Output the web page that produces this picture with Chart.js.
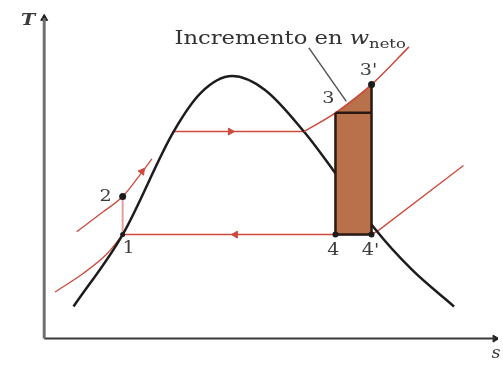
<!DOCTYPE html>
<html>
<head>
<meta charset="utf-8">
<script src="https://cdn.jsdelivr.net/npm/chart.js@4.4.0/dist/chart.umd.min.js"></script>
<style>
body { margin: 0; background: #fff; }
#wrap { width: 503px; height: 365px; }
</style>
</head>
<body>
<div id="wrap"><canvas id="tsChart"></canvas></div>
<script>
// saturation dome (s, T in arbitrary units)
var domeS = [0.65, 1.74, 2.87, 3.48, 4.17, 4.89, 5.76, 6.41, 7.33, 8.15, 9.09];
var domeT = [1.01, 3.28, 6.53, 7.76, 8.28, 7.85, 6.53, 5.31, 3.47, 2.18, 1.01];

// high pressure isobar
var hpLiqS = [0.72, 1.30, 1.74, 2.17, 2.39];
var hpLiqT = [3.37, 3.99, 4.48, 5.25, 5.67];
var hpEvapS = [2.87, 5.76];
var hpEvapT = [6.53, 6.53];
var hpVapS = [5.76, 6.46, 7.26, 8.09];
var hpVapT = [6.53, 7.12, 8.01, 9.20];

// low pressure isobar
var lpLiqS = [0.24, 0.87, 1.41, 1.74];
var lpLiqT = [1.47, 2.06, 2.70, 3.28];
var lpCondS = [1.74, 7.26];
var lpCondT = [3.28, 3.28];
var lpVapS = [7.26, 7.43, 9.30];
var lpVapT = [3.28, 3.43, 5.46];

// pump 1-2
var pumpS = [1.74, 1.74];
var pumpT = [3.28, 4.48];

// state points
var stateNames = ['1', '2', '3', "3'", '4', "4'"];
var stateS = [1.74, 1.74, 6.46, 7.26, 6.46, 7.26];
var stateT = [3.28, 4.48, 7.12, 8.01, 3.28, 3.28];

// flow arrows
var arrowS = [4.13, 4.24, 2.17];
var arrowT = [6.53, 3.28, 5.27];
var arrowRot = [90, -90, 37];

// leader line for the annotation
var leaderS = [5.87, 6.70];
var leaderT = [9.17, 7.48];

var label = 'Incremento en ';
var labelW = 'w';
var labelSub = 'neto';

function pts(s, t) {
    return s.map(function (v, i) { return {x: v, y: t[i]}; });
}

var red = '#cc4a3c';
var dark = '#1c1c1c';

var rectPath = [
    {x: stateS[2], y: stateT[2]},
    {x: stateS[4], y: stateT[4]},
    {x: stateS[5], y: stateT[5]},
    {x: stateS[3], y: stateT[3]},
    {x: stateS[3], y: stateT[2]},
    {x: stateS[2], y: stateT[2]}
];

function line(data, color, width, order) {
    return {
        data: data,
        showLine: true,
        borderColor: color,
        borderWidth: width,
        pointRadius: 0,
        fill: false,
        tension: 0,
        order: order
    };
}

function curve(data, color, width, order) {
    var ds = line(data, color, width, order);
    ds.cubicInterpolationMode = 'monotone';
    return ds;
}

function stretchText(ctx, text, x, y, sx) {
    ctx.save();
    ctx.translate(x, y);
    ctx.scale(sx, 1);
    ctx.fillText(text, 0, 0);
    ctx.restore();
}

var textPlugin = {
    id: 'tsLabels',
    afterDatasetsDraw: function (chart) {
        var ctx = chart.ctx, xs = chart.scales.x, ys = chart.scales.y;
        var labelDx = [6, -17, -7, -3, -2, -1];
        var labelDy = [14, 0, -14, -14, 16, 16];
        ctx.save();
        ctx.fillStyle = '#3c3c3c';
        ctx.textAlign = 'center';
        ctx.textBaseline = 'middle';
        ctx.font = '16px "DejaVu Serif"';
        stateNames.forEach(function (name, i) {
            stretchText(ctx, name,
                xs.getPixelForValue(stateS[i]) + labelDx[i],
                ys.getPixelForValue(stateT[i]) + labelDy[i], 1.2);
        });

        // axis names
        ctx.font = 'italic bold 16px "DejaVu Serif"';
        stretchText(ctx, 'T', xs.getPixelForValue(0) - 16, ys.getPixelForValue(10.1) + 2, 1.2);
        ctx.font = 'italic 16px "DejaVu Serif"';
        stretchText(ctx, 's', xs.getPixelForValue(10) + 1, ys.getPixelForValue(0) + 15, 1.1);

        // annotation
        ctx.fillStyle = '#333333';
        ctx.textAlign = 'left';
        ctx.textBaseline = 'alphabetic';
        ctx.font = '18px "DejaVu Serif"';
        var x0 = xs.getPixelForValue(2.89);
        var y0 = ys.getPixelForValue(9.30);
        var sx = 168 / ctx.measureText('Incremento en').width;
        stretchText(ctx, label, x0, y0, sx);
        var x1 = x0 + ctx.measureText(label).width * sx;
        ctx.font = 'italic 18px "DejaVu Serif"';
        stretchText(ctx, labelW, x1, y0, sx);
        var x2 = x1 + ctx.measureText(labelW).width * sx;
        ctx.font = '13px "DejaVu Serif"';
        stretchText(ctx, labelSub, x2, y0 + 4, sx);
        ctx.restore();
    }
};

var ctx = document.getElementById('tsChart');
var tsChart = new Chart(ctx, {
    type: 'scatter',
    data: {
        datasets: [
            {
                data: pts(stateS, stateT),
                pointRadius: [2.5, 3.5, 0, 3.5, 3, 3],
                pointBackgroundColor: dark,
                pointBorderWidth: 0,
                showLine: false,
                order: 0
            },
            {
                data: pts(arrowS, arrowT),
                pointStyle: 'triangle',
                pointRadius: 4,
                pointRotation: arrowRot,
                pointBackgroundColor: red,
                pointBorderColor: red,
                showLine: false,
                order: 1
            },
            line(rectPath, '#2a1a12', 2.5, 2),
            curve(pts(hpVapS, hpVapT), red, 1.5, 3),
            {
                data: pts([stateS[2], stateS[3]], [stateT[2], stateT[3]]),
                showLine: true,
                borderWidth: 0,
                pointRadius: 0,
                backgroundColor: '#b9714b',
                fill: {value: stateT[0]},
                order: 4
            },
            curve(pts(domeS, domeT), dark, 2.5, 5),
            curve(pts(hpLiqS, hpLiqT), red, 1.3, 6),
            line(pts(hpEvapS, hpEvapT), red, 1.5, 6),
            curve(pts(lpLiqS, lpLiqT), red, 1.3, 6),
            line(pts(lpCondS, lpCondT), red, 1.5, 6),
            line(pts(lpVapS, lpVapT), red, 1.3, 6),
            line(pts(pumpS, pumpT), '#e0a0a0', 2, 6),
            line(pts(leaderS, leaderT), '#555555', 1.5, 6),
            line(pts([0, 0], [0, 10.1]), '#707070', 3, 7),
            line(pts([0, 10], [0, 0]), '#3a3a3a', 2, 7),
            {
                data: pts([0, 10], [10.1, 0]),
                pointStyle: 'triangle',
                pointRadius: 4,
                pointRotation: [0, 90],
                pointBackgroundColor: '#222',
                pointBorderColor: '#222',
                showLine: false,
                order: 7
            }
        ]
    },
    options: {
        responsive: true,
        maintainAspectRatio: false,
        animation: false,
        layout: { padding: 0 },
        scales: {
            x: { type: 'linear', min: -0.8696, max: 10.065, display: false },
            y: { type: 'linear', min: -0.6748, max: 10.521, display: false }
        },
        plugins: {
            legend: { display: false },
            tooltip: { enabled: false }
        }
    },
    plugins: [textPlugin]
});
</script>
</body>
</html>
